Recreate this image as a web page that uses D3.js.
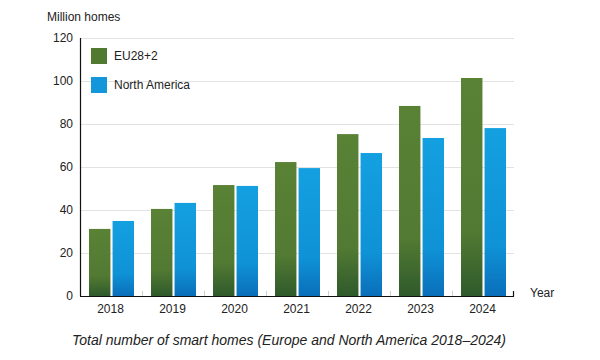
<!DOCTYPE html>
<html><head><meta charset="utf-8">
<script src="https://cdn.jsdelivr.net/npm/d3@7"></script>
<style>body{margin:0;background:#fff;}svg{display:block;font-family:"Liberation Sans",Arial,Helvetica,sans-serif;}</style>
</head><body><svg id="c" width="600" height="360"></svg>
<script>
const years = ["2018","2019","2020","2021","2022","2023","2024"];
const seriesNames = ["EU28+2","North America"];
const eu = [31.2, 40.5, 51.6, 62.3, 75.3, 88.4, 101.4];
const na = [34.9, 43.3, 51.2, 59.5, 66.5, 73.5, 78.1];
const yTicks = [0, 20, 40, 60, 80, 100, 120];

const svg = d3.select("#c");
const L = 80, R = 514, T = 38, B = 296;
const x = d3.scaleBand().domain(years).range([L, R]).paddingInner(0).paddingOuter(0);
const x1 = d3.scaleBand().domain(seriesNames).range([9, 54]).paddingInner(0.09);
const y = d3.scaleLinear().domain([0, 120]).range([B, T]);

const defs = svg.append("defs");
function grad(id, top, mid, bot) {
  const g = defs.append("linearGradient").attr("id", id).attr("x1",0).attr("y1",0).attr("x2",0).attr("y2",1)
    .attr("gradientUnits","objectBoundingBox");
  g.append("stop").attr("offset","0%").attr("stop-color", top);
  g.append("stop").attr("offset","70%").attr("stop-color", mid);
  g.append("stop").attr("offset","100%").attr("stop-color", bot);
}
grad("gEU", "#5a8235", "#527a33", "#2f5a2b");
grad("gNA", "#14a0e0", "#0f92d6", "#0a6fba");
const fills = {"EU28+2": "url(#gEU)", "North America": "url(#gNA)"};
const legendFills = {"EU28+2": "#4f7a30", "North America": "#1397da"};

// gridlines
svg.append("g").selectAll("line").data(yTicks.filter(d => d > 0)).join("line")
  .attr("x1", L).attr("x2", R).attr("y1", d => y(d)+0.5).attr("y2", d => y(d)+0.5)
  .attr("stroke", "#e2e2e2").attr("stroke-width", 1);

// y tick labels
svg.append("g").selectAll("text").data(yTicks).join("text")
  .attr("x", 73).attr("y", d => y(d)).attr("dy", "0.35em").attr("text-anchor", "end")
  .attr("font-size", 12).attr("fill", "#222").text(d => d);

// x band ticks (faint)
svg.append("g").selectAll("line").data(years.slice(1)).join("line")
  .attr("x1", d => x(d)+0.5).attr("x2", d => x(d)+0.5).attr("y1", B-5).attr("y2", B)
  .attr("stroke", "#cfcfcf");

// bars
const rows = years.map((yr, i) => ({year: yr, vals: [{k: "EU28+2", v: eu[i]}, {k: "North America", v: na[i]}]}));
svg.append("g").selectAll("g").data(rows).join("g")
  .attr("transform", d => `translate(${x(d.year)},0)`)
  .selectAll("rect").data(d => d.vals).join("rect")
  .attr("x", d => x1(d.k)).attr("width", x1.bandwidth())
  .attr("y", d => y(d.v)).attr("height", d => B - y(d.v))
  .attr("fill", d => fills[d.k]);

// axes lines
svg.append("line").attr("x1", L+0.5).attr("x2", L+0.5).attr("y1", T).attr("y2", B).attr("stroke", "#111").attr("stroke-width", 1.2);
svg.append("line").attr("x1", L).attr("x2", R).attr("y1", B+0.5).attr("y2", B+0.5).attr("stroke", "#111").attr("stroke-width", 1.2);
svg.append("line").attr("x1", R-0.5).attr("x2", R-0.5).attr("y1", B-5).attr("y2", B+0.5).attr("stroke", "#111").attr("stroke-width", 1.2);

// x labels
svg.append("g").selectAll("text").data(years).join("text")
  .attr("x", d => x(d) + x.bandwidth()/2 - 0.5).attr("y", 313).attr("text-anchor", "middle")
  .attr("font-size", 12).attr("fill", "#222").text(d => d);

// axis titles
svg.append("text").attr("x", 47).attr("y", 21).attr("font-size", 12).attr("fill", "#222").text("Million homes");
svg.append("text").attr("x", 530).attr("y", 297).attr("font-size", 12).attr("fill", "#222").text("Year");

// legend
const lg = svg.append("g").selectAll("g").data(seriesNames).join("g")
  .attr("transform", (d, i) => `translate(91,${48 + i*29})`);
lg.append("rect").attr("width", 16).attr("height", 16).attr("fill", d => legendFills[d]);
lg.append("text").attr("x", 23).attr("y", 8).attr("dy", "0.35em").attr("font-size", 12).attr("fill", "#222").text(d => d);

// caption
svg.append("text").attr("x", 289).attr("y", 345).attr("text-anchor", "middle")
  .attr("font-size", 14).attr("font-style", "italic").attr("fill", "#222")
  .text("Total number of smart homes (Europe and North America 2018–2024)");
</script></body></html>
